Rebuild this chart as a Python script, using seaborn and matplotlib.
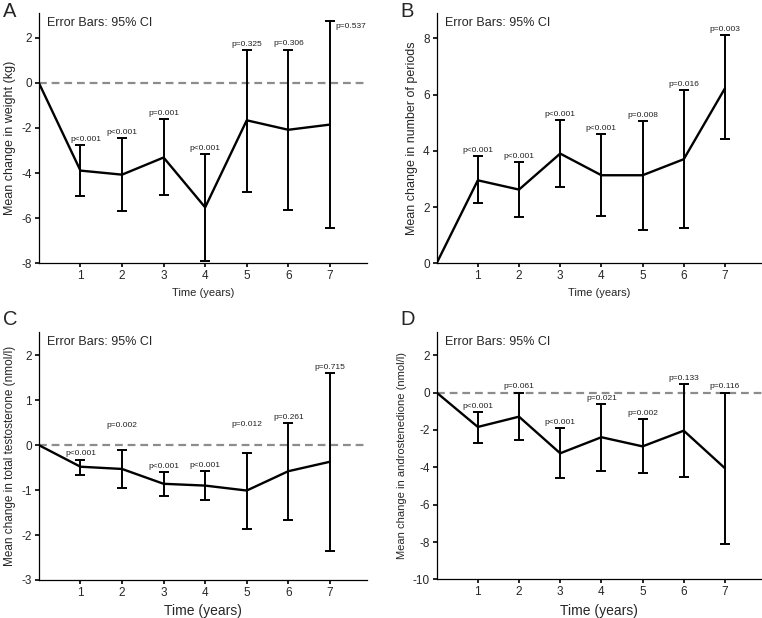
import numpy as np
import pandas as pd
import matplotlib
matplotlib.use('Agg')
import matplotlib.pyplot as plt
import seaborn as sns

# 数据
years = [0, 1, 2, 3, 4, 5, 6, 7]

weight_mean = [0, -3.89, -4.07, -3.31, -5.52, -1.66, -2.08, -1.85]
weight_lo = [0, -5.03, -5.68, -4.96, -7.92, -4.82, -5.64, -6.45]
weight_hi = [0, -2.77, -2.45, -1.60, -3.16, 1.45, 1.48, 2.76]
weight_p = ['p<0.001', 'p<0.001', 'p=0.001', 'p<0.001', 'p=0.325', 'p=0.306', 'p=0.537']

periods_mean = [0, 2.95, 2.62, 3.90, 3.13, 3.13, 3.70, 6.22]
periods_lo = [0, 2.14, 1.64, 2.71, 1.69, 1.20, 1.24, 4.42]
periods_hi = [0, 3.80, 3.60, 5.08, 4.58, 5.05, 6.16, 8.10]
periods_p = ['p<0.001', 'p<0.001', 'p<0.001', 'p<0.001', 'p=0.008', 'p=0.016', 'p=0.003']

testo_mean = [0, -0.48, -0.53, -0.86, -0.90, -1.01, -0.58, -0.37]
testo_lo = [0, -0.66, -0.95, -1.13, -1.23, -1.86, -1.66, -2.35]
testo_hi = [0, -0.32, -0.11, -0.60, -0.58, -0.18, 0.50, 1.61]
testo_p = ['p<0.001', 'p=0.002', 'p<0.001', 'p<0.001', 'p=0.012', 'p=0.261', 'p=0.715']

andro_mean = [0, -1.84, -1.29, -3.25, -2.39, -2.88, -2.04, -4.05]
andro_lo = [0, -2.71, -2.54, -4.59, -4.20, -4.32, -4.50, -8.13]
andro_hi = [0, -1.02, 0.0, -1.91, -0.59, -1.41, 0.45, 0.0]
andro_p = ['p<0.001', 'p=0.061', 'p<0.001', 'p=0.021', 'p=0.002', 'p=0.133', 'p=0.116']

sns.set_style("ticks")
plt.rcParams['font.family'] = ['Liberation Sans', 'DejaVu Sans']
plt.rcParams['axes.unicode_minus'] = False

fig = plt.figure(figsize=(7.62, 6.18), dpi=100)

panels = [
    dict(letter='A', pos=[0.051, 0.574, 0.431, 0.405], ly=0.997, mean=weight_mean, lo=weight_lo, hi=weight_hi,
         p=weight_p, ylabel='Mean change in weight (kg)', ylim=(-8, 3.1), yticks=np.arange(-8, 3, 2),
         zero=True, ylab_fs=9, xlab_fs=8,
         shifts={0: (4, 0), 6: (None, None)}),
    dict(letter='B', pos=[0.573, 0.574, 0.427, 0.405], ly=0.997, mean=periods_mean, lo=periods_lo, hi=periods_hi,
         p=periods_p, ylabel='Mean change in number of periods', ylim=(0, 8.9), yticks=np.arange(0, 9, 2),
         zero=False, ylab_fs=9, xlab_fs=8, shifts={}),
    dict(letter='C', pos=[0.051, 0.0615, 0.431, 0.4015], ly=0.498, mean=testo_mean, lo=testo_lo, hi=testo_hi,
         p=testo_p, ylabel='Mean change in total testosterone (nmol/l)', ylim=(-3, 2.52), yticks=np.arange(-3, 3, 1),
         zero=True, ylab_fs=8.5, xlab_fs=10, shifts={1: (0, 14), 4: (0, 17)}),
    dict(letter='D', pos=[0.573, 0.0625, 0.427, 0.4005], ly=0.498, mean=andro_mean, lo=andro_lo, hi=andro_hi,
         p=andro_p, ylabel='Mean change in androstenedione (nmol/l)', ylim=(-10, 3.25), yticks=np.arange(-10, 3, 2),
         zero=True, ylab_fs=8, xlab_fs=10, shifts={}),
]

for pan in panels:
    ax = fig.add_axes(pan['pos'])
    df = pd.DataFrame({'year': years, 'mean': pan['mean'], 'lo': pan['lo'], 'hi': pan['hi']})

    if pan['zero']:
        ax.axhline(0, color='#8c8c8c', lw=1.6, ls=(0, (3.5, 2.2)), zorder=1)

    sns.lineplot(data=df, x='year', y='mean', ax=ax, color='black', lw=1.7, zorder=3)

    sub = df[df['year'] > 0]
    ax.errorbar(sub['year'], sub['mean'],
                yerr=[sub['mean'] - sub['lo'], sub['hi'] - sub['mean']],
                fmt='none', ecolor='black', elinewidth=1.4, capsize=3.8, capthick=1.4, zorder=3)

    for i, (x, h, txt) in enumerate(zip(sub['year'], sub['hi'], pan['p'])):
        dx, dy = pan['shifts'].get(i, (0, 0))
        if dx is None:
            # 标签放在误差线右侧
            ax.annotate(txt, (x, h), xytext=(4, -2), textcoords='offset points',
                        ha='left', va='top', fontsize=6, color='#222222')
        else:
            ax.annotate(txt, (x, h), xytext=(dx, 1.5 + dy), textcoords='offset points',
                        ha='center', va='bottom', fontsize=6, color='#222222')

    ax.set_xlim(0, 7.9)
    ax.set_ylim(*pan['ylim'])
    ax.set_xticks(range(1, 8))
    ax.set_yticks(pan['yticks'])
    ax.set_xlabel('Time (years)', fontsize=pan['xlab_fs'])
    ax.set_ylabel(pan['ylabel'], fontsize=pan['ylab_fs'])
    ax.tick_params(axis='both', labelsize=8.5, length=3, width=1.2, direction='out', color='black', pad=2)
    for s in ['top', 'right']:
        ax.spines[s].set_visible(False)
    for s in ['left', 'bottom']:
        ax.spines[s].set_linewidth(0.9)
        ax.spines[s].set_color('black')

    ax.text(0.025, 0.985, 'Error Bars: 95% CI', transform=ax.transAxes, ha='left', va='top', fontsize=9)
    fig.text(pan['pos'][0] - 0.047, pan['ly'], pan['letter'], ha='left', va='top', fontsize=14.5)

fig.savefig('out.png', dpi=100)
